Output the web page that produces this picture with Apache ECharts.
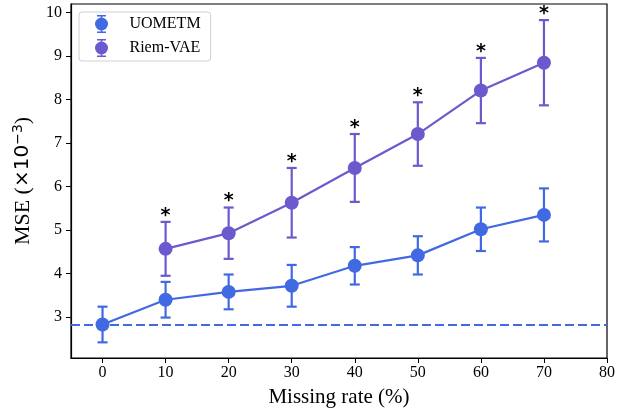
<!DOCTYPE html>
<html>
<head>
<meta charset="utf-8">
<script src="https://cdn.jsdelivr.net/npm/echarts@6/dist/echarts.min.js"></script>
<style>
  html, body { margin: 0; padding: 0; background: #fff; }
  #chart { width: 627px; height: 413px; }
</style>
</head>
<body>
<div id="chart"></div>
<script>
// values
const xTicks = [0, 10, 20, 30, 40, 50, 60, 70, 80];
const yTicks = [3, 4, 5, 6, 7, 8, 9, 10];

const uometmX = [0, 10, 20, 30, 40, 50, 60, 70];
const uometmMean = [2.83, 3.40, 3.58, 3.72, 4.18, 4.42, 5.02, 5.35];
const uometmErr = [0.41, 0.41, 0.40, 0.48, 0.43, 0.44, 0.50, 0.61];

const riemX = [10, 20, 30, 40, 50, 60, 70];
const riemMean = [4.57, 4.93, 5.63, 6.43, 7.21, 8.21, 8.85];
const riemErr = [0.62, 0.59, 0.80, 0.78, 0.73, 0.75, 0.98];

const baseline = 2.83;

const BLUE = '#4169e1';
const PURPLE = '#6a5acd';
const SERIF = '"Liberation Serif", "DejaVu Serif", serif';

// legend icon: circle with error bar caps
const errIcon = 'path://M2.5,0h9v1.6h-9z M6.2,0h1.6v18h-1.6z M2.5,16.4h9v1.6h-9z ' +
  'M0.5,9a6.5,6.5 0 1,1 13,0a6.5,6.5 0 1,1 -13,0z';

function pairs(xs, ys) {
  return xs.map((x, i) => [x, ys[i]]);
}

function errData(xs, ms, es) {
  return xs.map((x, i) => [x, ms[i] - es[i], ms[i] + es[i]]);
}

function errorBars(color, withStar) {
  return function (params, api) {
    const x = api.value(0);
    const lo = api.coord([x, api.value(1)]);
    const hi = api.coord([x, api.value(2)]);
    const cap = 5;
    const style = { stroke: color, lineWidth: 2.2 };
    const children = [
      { type: 'line', shape: { x1: lo[0], y1: lo[1], x2: hi[0], y2: hi[1] }, style },
      { type: 'line', shape: { x1: lo[0] - cap, y1: lo[1], x2: lo[0] + cap, y2: lo[1] }, style },
      { type: 'line', shape: { x1: hi[0] - cap, y1: hi[1], x2: hi[0] + cap, y2: hi[1] }, style }
    ];
    if (withStar) {
      children.push({
        type: 'text',
        style: {
          text: '*', x: hi[0], y: hi[1] - 6,
          fill: '#000', font: 'bold 19px "DejaVu Sans"',
          align: 'center', verticalAlign: 'middle'
        }
      });
    }
    return { type: 'group', children };
  };
}

const chart = echarts.init(document.getElementById('chart'));

chart.setOption({
  animation: false,
  grid: {
    left: 71, right: 20, top: 4, bottom: 55,
    show: true, borderColor: '#000', borderWidth: 1.2
  },
  legend: {
    orient: 'vertical',
    left: 79, top: 12,
    padding: [3, 10, 4, 16],
    itemWidth: 14, itemHeight: 18, itemGap: 6,
    backgroundColor: 'rgba(255,255,255,0.8)',
    borderColor: '#d0d0d0', borderWidth: 1, borderRadius: 3,
    textStyle: { fontFamily: SERIF, fontSize: 16, color: '#000', padding: [0, 0, 0, 16] },
    data: [
      { name: 'UOMETM', icon: errIcon, itemStyle: { color: BLUE } },
      { name: 'Riem-VAE', icon: errIcon, itemStyle: { color: PURPLE } }
    ]
  },
  xAxis: {
    type: 'value', min: -5, max: 80,
    name: 'Missing rate (%)', nameLocation: 'middle', nameGap: 29,
    nameTextStyle: { fontFamily: SERIF, fontSize: 21, color: '#000' },
    axisLine: { show: true, onZero: false, lineStyle: { color: '#000', width: 1.2 } },
    axisTick: { show: true, length: 5, lineStyle: { color: '#000' }, customValues: xTicks },
    axisLabel: { fontFamily: SERIF, fontSize: 16, color: '#000', margin: 7, customValues: xTicks },
    splitLine: { show: false }
  },
  yAxis: {
    type: 'value', min: 2.06, max: 10.2,
    name: '{a|MSE (}{m|×10}{b|−3}{a|)}', nameLocation: 'middle', nameGap: 36,
    nameTextStyle: {
      rich: {
        a: { fontFamily: SERIF, fontSize: 22, color: '#000' },
        m: { fontFamily: '"DejaVu Sans"', fontSize: 20, color: '#000' },
        b: { fontFamily: '"DejaVu Sans"', fontSize: 14, color: '#000', verticalAlign: 'top', padding: [0, 0, 10, 0] }
      }
    },
    axisLine: { show: true, onZero: false, lineStyle: { color: '#000', width: 1.2 } },
    axisTick: { show: true, length: 5, lineStyle: { color: '#000' }, customValues: yTicks },
    axisLabel: { fontFamily: SERIF, fontSize: 16, color: '#000', margin: 9, customValues: yTicks },
    splitLine: { show: false }
  },
  series: [
    {
      name: 'UOMETM', type: 'line', data: pairs(uometmX, uometmMean),
      symbol: 'circle', symbolSize: 14, z: 3,
      itemStyle: { color: BLUE }, lineStyle: { color: BLUE, width: 2.2 },
      markLine: {
        silent: true, symbol: 'none', label: { show: false },
        lineStyle: { color: BLUE, type: [9, 4], width: 2 },
        data: [{ yAxis: baseline }]
      }
    },
    {
      name: 'UOMETM', type: 'custom', data: errData(uometmX, uometmMean, uometmErr),
      renderItem: errorBars(BLUE, false), z: 2
    },
    {
      name: 'Riem-VAE', type: 'line', data: pairs(riemX, riemMean),
      symbol: 'circle', symbolSize: 14, z: 3,
      itemStyle: { color: PURPLE }, lineStyle: { color: PURPLE, width: 2.2 }
    },
    {
      name: 'Riem-VAE', type: 'custom', data: errData(riemX, riemMean, riemErr),
      renderItem: errorBars(PURPLE, true), z: 2
    }
  ]
});
</script>
</body>
</html>
